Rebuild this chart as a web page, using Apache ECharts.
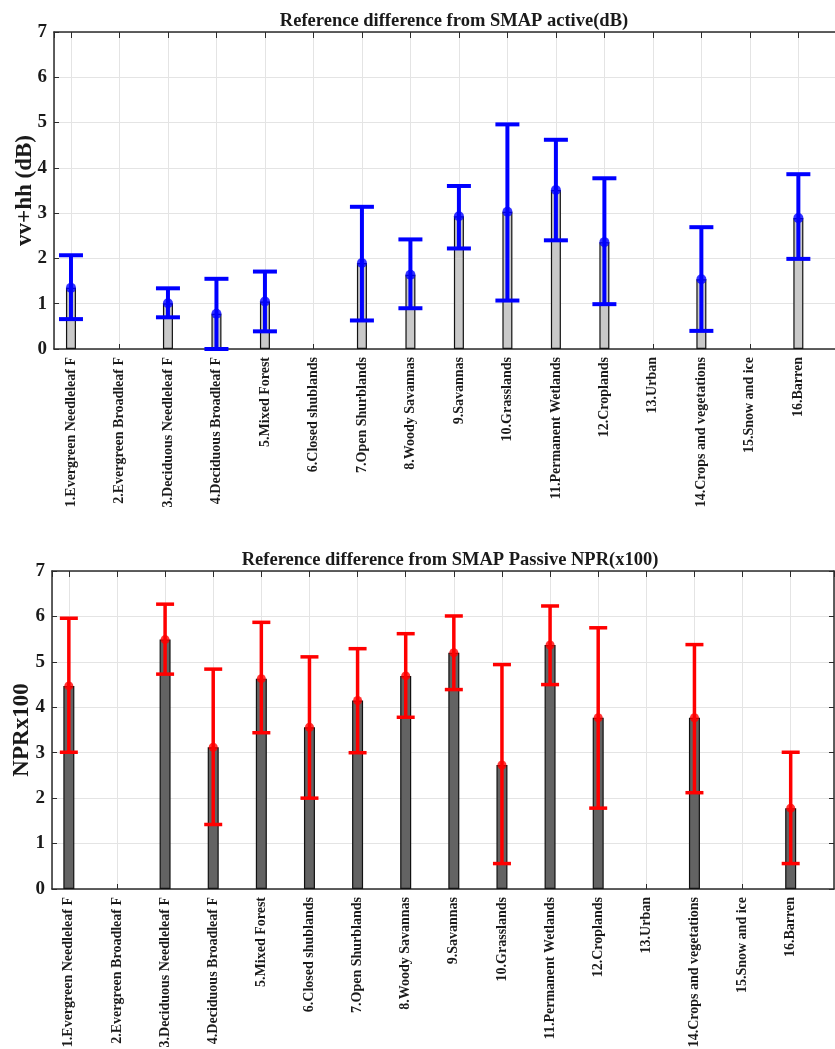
<!DOCTYPE html>
<html>
<head>
<meta charset="utf-8">
<title>Reference difference from SMAP</title>
<script src="https://cdn.jsdelivr.net/npm/echarts@6/dist/echarts.min.js"></script>
<style>
  html, body { margin: 0; padding: 0; background: #fff; }
  #chart { width: 835px; height: 1049px; }
</style>
</head>
<body>
<div id="chart"></div>
<script>
(function () {
  'use strict';

  var categories = [
    '1.Evergreen Needleleaf F', '2.Evergreen Broadleaf F', '3.Deciduous Needleleaf F',
    '4.Deciduous Broadleaf F', '5.Mixed Forest', '6.Closed shublands', '7.Open Shurblands',
    '8.Woody Savannas', '9.Savannas', '10.Grasslands', '11.Permanent Wetlands',
    '12.Croplands', '13.Urban', '14.Crops and vegetations', '15.Snow and ice', '16.Barren'
  ];

  // top panel: vv+hh (dB)
  var activeMean = [1.35, null, 1.01, 0.78, 1.05, null, 1.90, 1.64, 2.93, 3.03, 3.51, 2.36, null, 1.54, null, 2.89];
  var activeLow  = [0.66, null, 0.70, 0.00, 0.39, null, 0.63, 0.90, 2.22, 1.07, 2.40, 0.99, null, 0.40, null, 1.99];
  var activeHigh = [2.07, null, 1.34, 1.55, 1.71, null, 3.14, 2.42, 3.60, 4.96, 4.62, 3.77, null, 2.69, null, 3.86];

  // bottom panel: NPR x100
  var passiveMean = [4.47, null, 5.49, 3.12, 4.63, 3.56, 4.15, 4.69, 5.20, 2.73, 5.37, 3.77, null, 3.77, null, 1.78];
  var passiveLow  = [3.01, null, 4.73, 1.42, 3.44, 2.00, 3.00, 3.78, 4.39, 0.56, 4.50, 1.78, null, 2.12, null, 0.56];
  var passiveHigh = [5.96, null, 6.27, 4.84, 5.87, 5.11, 5.29, 5.62, 6.01, 4.94, 6.23, 5.75, null, 5.38, null, 3.01];

  var yTicks = [0, 1, 2, 3, 4, 5, 6, 7];

  var FONT = '"Liberation Serif", "Times New Roman", serif';
  var AXIS_COLOR = '#2b2b2b';
  var GRID_COLOR = '#e4e4e4';

  function pairs(means) {
    var out = [];
    means.forEach(function (v, i) {
      if (v != null) out.push([i + 1, v]);
    });
    return out;
  }

  function ranges(lows, highs) {
    var out = [];
    lows.forEach(function (v, i) {
      if (v != null) out.push([i + 1, v, highs[i]]);
    });
    return out;
  }

  function catLabel(value) {
    var r = Math.round(value);
    if (Math.abs(value - r) > 1e-6 || r < 1 || r > categories.length) return '';
    return categories[r - 1];
  }

  function xMain(gridIndex) {
    return {
      type: 'value',
      gridIndex: gridIndex,
      min: 0.65,
      max: 16.9,
      splitNumber: 16,
      minInterval: 1,
      maxInterval: 1,
      axisLine: { show: true, onZero: false, lineStyle: { color: AXIS_COLOR, width: 1.5 } },
      axisTick: { show: true, inside: true, length: 5, lineStyle: { color: AXIS_COLOR } },
      splitLine: { show: true, lineStyle: { color: GRID_COLOR, width: 1 } },
      axisLabel: {
        rotate: 90,
        margin: 8,
        fontFamily: FONT,
        fontWeight: 'bold',
        fontSize: 14,
        color: '#1a1a1a',
        showMinLabel: false,
        showMaxLabel: false,
        formatter: catLabel
      }
    };
  }

  function xBox(gridIndex) {
    return {
      type: 'value',
      gridIndex: gridIndex,
      position: 'top',
      min: 0.65,
      max: 16.9,
      splitNumber: 16,
      minInterval: 1,
      maxInterval: 1,
      axisLine: { show: true, onZero: false, lineStyle: { color: AXIS_COLOR, width: 1.5 } },
      axisTick: { show: true, inside: true, length: 6, lineStyle: { color: AXIS_COLOR } },
      splitLine: { show: false },
      axisLabel: { show: false }
    };
  }

  function yMain(gridIndex, name, nameGap) {
    return {
      type: 'value',
      gridIndex: gridIndex,
      min: yTicks[0],
      max: yTicks[yTicks.length - 1],
      interval: 1,
      name: name,
      nameLocation: 'middle',
      nameGap: nameGap,
      nameRotate: 90,
      nameMoveOverlap: false,
      nameTextStyle: { fontFamily: FONT, fontWeight: 'bold', fontSize: 23, color: '#1a1a1a' },
      axisLine: { show: true, lineStyle: { color: AXIS_COLOR, width: 1.5 } },
      axisTick: { show: true, inside: true, length: 5, lineStyle: { color: AXIS_COLOR } },
      splitLine: { show: true, lineStyle: { color: GRID_COLOR, width: 1 } },
      axisLabel: { margin: 7, fontFamily: FONT, fontWeight: 'bold', fontSize: 19, color: '#1a1a1a' }
    };
  }

  function errorSeries(xi, yi, data, color, width, capHalf) {
    return {
      type: 'custom',
      xAxisIndex: xi,
      yAxisIndex: yi,
      z: 5,
      silent: true,
      data: data,
      renderItem: function (params, api) {
        var x = api.value(0);
        var lo = api.coord([x, api.value(1)]);
        var hi = api.coord([x, api.value(2)]);
        var style = { stroke: color, lineWidth: width, lineCap: 'butt' };
        return {
          type: 'group',
          children: [
            { type: 'line', shape: { x1: lo[0], y1: lo[1], x2: hi[0], y2: hi[1] }, style: style },
            { type: 'line', shape: { x1: hi[0] - capHalf, y1: hi[1], x2: hi[0] + capHalf, y2: hi[1] }, style: style },
            { type: 'line', shape: { x1: lo[0] - capHalf, y1: lo[1], x2: lo[0] + capHalf, y2: lo[1] }, style: style }
          ]
        };
      }
    };
  }

  var chart = echarts.init(document.getElementById('chart'), null, { renderer: 'canvas' });

  chart.setOption({
    animation: false,
    backgroundColor: '#ffffff',
    title: [
      {
        text: 'Reference difference from SMAP active(dB)',
        left: 449, top: 7, textAlign: 'center',
        textStyle: { fontFamily: FONT, fontWeight: 'bold', fontSize: 18.5, color: '#1a1a1a' }
      },
      {
        text: 'Reference difference from SMAP Passive NPR(x100)',
        left: 445, top: 546, textAlign: 'center',
        textStyle: { fontFamily: FONT, fontWeight: 'bold', fontSize: 18.5, color: '#1a1a1a' }
      }
    ],
    grid: [
      { left: 54, top: 32, width: 788, height: 317, outerBoundsMode: 'none' },
      { left: 52, top: 571, width: 782, height: 318, outerBoundsMode: 'none' }
    ],
    xAxis: [xMain(0), xBox(0), xMain(1), xBox(1)],
    yAxis: [
      yMain(0, 'vv+hh (dB)', 17),
      yMain(1, 'NPRx100', 18),
      {
        type: 'value',
        gridIndex: 1,
        position: 'right',
        min: yTicks[0],
        max: yTicks[yTicks.length - 1],
        interval: 1,
        axisLine: { show: true, lineStyle: { color: AXIS_COLOR, width: 1.5 } },
        axisTick: { show: true, inside: true, length: 5, lineStyle: { color: AXIS_COLOR } },
        splitLine: { show: false },
        axisLabel: { show: false }
      }
    ],
    series: [
      {
        type: 'bar',
        xAxisIndex: 0,
        yAxisIndex: 0,
        barWidth: 10,
        data: pairs(activeMean),
        itemStyle: { color: '#c9c9c9', borderColor: '#111', borderWidth: 1.2 }
      },
      errorSeries(0, 0, ranges(activeLow, activeHigh), '#0000ff', 4, 12),
      {
        type: 'scatter',
        xAxisIndex: 0,
        yAxisIndex: 0,
        z: 6,
        symbol: 'circle',
        symbolSize: 10,
        data: pairs(activeMean),
        itemStyle: { color: '#0000ff' }
      },
      {
        type: 'bar',
        xAxisIndex: 2,
        yAxisIndex: 1,
        barWidth: 11,
        data: pairs(passiveMean),
        itemStyle: { color: '#636363', borderColor: '#111', borderWidth: 1.2 }
      },
      errorSeries(2, 1, ranges(passiveLow, passiveHigh), '#ff0000', 3.5, 9),
      {
        type: 'scatter',
        xAxisIndex: 2,
        yAxisIndex: 1,
        z: 6,
        symbol: 'circle',
        symbolSize: 9,
        data: pairs(passiveMean),
        itemStyle: { color: '#ff0000' }
      }
    ]
  });
})();
</script>
</body>
</html>
